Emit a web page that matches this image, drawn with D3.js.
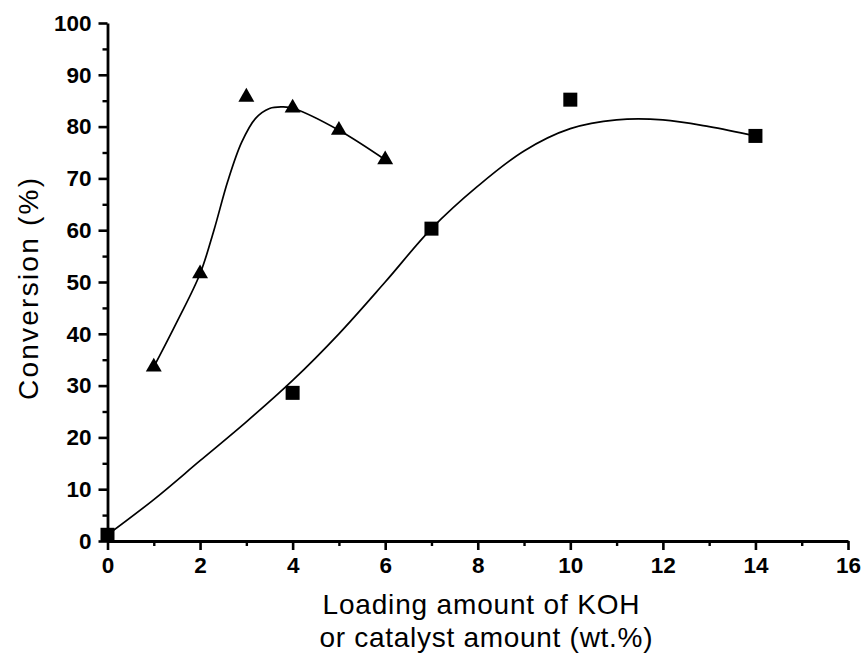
<!DOCTYPE html>
<html>
<head>
<meta charset="utf-8">
<script src="https://cdn.jsdelivr.net/npm/d3@7"></script>
<style>
  body { margin: 0; background: #fff; }
  text { font-family: "Liberation Sans", Arial, sans-serif; fill: #000; }
</style>
</head>
<body>
<div id="scatter_chart"></div>
<script>
// data
var koh_x = [1, 2, 3, 4, 5, 6];
var koh_y = [33.6, 51.6, 85.7, 83.6, 79.3, 73.6];
var cat_x = [0, 4, 7, 10, 14];
var cat_y = [1.2, 28.6, 60.3, 85.2, 78.2];

// fitted curves
var koh_fit_x = [1, 1.5, 2, 2.3, 2.6, 2.9, 3.2, 3.5, 3.8, 4.05, 5, 6];
var koh_fit_y = [33.6, 42.3, 51.6, 60, 69.5, 77, 81.6, 83.5, 83.8, 83.4, 79.3, 73.6];
var cat_fit_x = [0, 1, 2, 3, 4, 5, 6, 7, 8, 9, 10, 11, 12, 13, 14];
var cat_fit_y = [1.2, 8, 15.5, 23, 31, 40, 50, 60.3, 68.5, 75.3, 79.6, 81.3, 81.3, 80, 78.2];

var x_ticks = [0, 2, 4, 6, 8, 10, 12, 14, 16];
var y_ticks = [0, 10, 20, 30, 40, 50, 60, 70, 80, 90, 100];

var y_axis_title = "Conversion (%)";
var x_axis_title = ["Loading amount of KOH", "or catalyst amount (wt.%)"];

var margin = {top: 23, right: 20, bottom: 115, left: 107.5},
    width = 848 - margin.left,
    height = 541 - margin.top;

var svg = d3.select("#scatter_chart")
    .append("svg")
    .attr("width", 868)
    .attr("height", 656);

var g_body = svg.append("g").attr("transform", "translate(" + margin.left + "," + margin.top + ")");

var x = d3.scaleLinear().domain([0, 16]).range([0, width]);
var y = d3.scaleLinear().domain([0, 100]).range([height, 0]);

// minor ticks
g_body.append("g")
    .attr("transform", "translate(0," + height + ")")
    .call(d3.axisBottom(x).tickValues(d3.range(1, 16, 2)).tickSize(5).tickFormat(""))
    .call(function(g) { g.select(".domain").remove(); g.selectAll("line").attr("stroke-width", 2.4); });
g_body.append("g")
    .call(d3.axisLeft(y).tickValues(d3.range(5, 100, 10)).tickSize(5).tickFormat(""))
    .call(function(g) { g.select(".domain").remove(); g.selectAll("line").attr("stroke-width", 2.4); });

// x-axis
var gx = g_body.append("g")
    .attr("transform", "translate(0," + height + ")")
    .call(d3.axisBottom(x).tickValues(x_ticks).tickSize(9).tickSizeOuter(0).tickPadding(7));
gx.select(".domain").attr("stroke-width", 2.8);
gx.selectAll("line").attr("stroke-width", 2.6);
gx.selectAll("text").attr("font-size", 22.5).attr("font-weight", "bold")
    .attr("font-family", "Liberation Sans, Arial, sans-serif");

// y-axis
var gy = g_body.append("g")
    .call(d3.axisLeft(y).tickValues(y_ticks).tickSize(9).tickSizeOuter(0).tickPadding(7));
gy.select(".domain").attr("stroke-width", 2.8);
gy.selectAll("line").attr("stroke-width", 2.6);
gy.selectAll("text").attr("font-size", 22.5).attr("font-weight", "bold")
    .attr("font-family", "Liberation Sans, Arial, sans-serif");

// fitted curves
var line = d3.line()
    .x(function(d) { return x(d[0]); })
    .y(function(d) { return y(d[1]); })
    .curve(d3.curveCatmullRom.alpha(0.5));

g_body.append("path")
    .datum(d3.zip(koh_fit_x, koh_fit_y))
    .attr("fill", "none").attr("stroke", "#000").attr("stroke-width", 1.7)
    .attr("d", line);
g_body.append("path")
    .datum(d3.zip(cat_fit_x, cat_fit_y))
    .attr("fill", "none").attr("stroke", "#000").attr("stroke-width", 1.7)
    .attr("d", line);

// triangles
g_body.selectAll(".tri")
    .data(d3.zip(koh_x, koh_y))
    .enter().append("path")
    .attr("class", "tri")
    .attr("transform", function(d) { return "translate(" + x(d[0]) + "," + y(d[1]) + ")"; })
    .attr("d", d3.symbol(d3.symbolTriangle, 110))
    .attr("fill", "#000");

// squares
g_body.selectAll(".sq")
    .data(d3.zip(cat_x, cat_y))
    .enter().append("rect")
    .attr("class", "sq")
    .attr("x", function(d) { return x(d[0]) - 7; })
    .attr("y", function(d) { return y(d[1]) - 7; })
    .attr("width", 14)
    .attr("height", 14)
    .attr("fill", "#000");

//title of y_axis
svg.append("text")
    .attr("transform", "translate(38,289) rotate(-90)")
    .attr("text-anchor", "middle")
    .attr("font-size", 28)
    .attr("textLength", 222)
    .attr("lengthAdjust", "spacing")
    .text(y_axis_title);

//title of x_axis
svg.append("text")
    .attr("x", 481).attr("y", 614)
    .attr("text-anchor", "middle")
    .attr("font-size", 28)
    .attr("textLength", 317)
    .attr("lengthAdjust", "spacing")
    .text(x_axis_title[0]);
svg.append("text")
    .attr("x", 486).attr("y", 647)
    .attr("text-anchor", "middle")
    .attr("font-size", 28)
    .attr("textLength", 333)
    .attr("lengthAdjust", "spacing")
    .text(x_axis_title[1]);
</script>
</body>
</html>
